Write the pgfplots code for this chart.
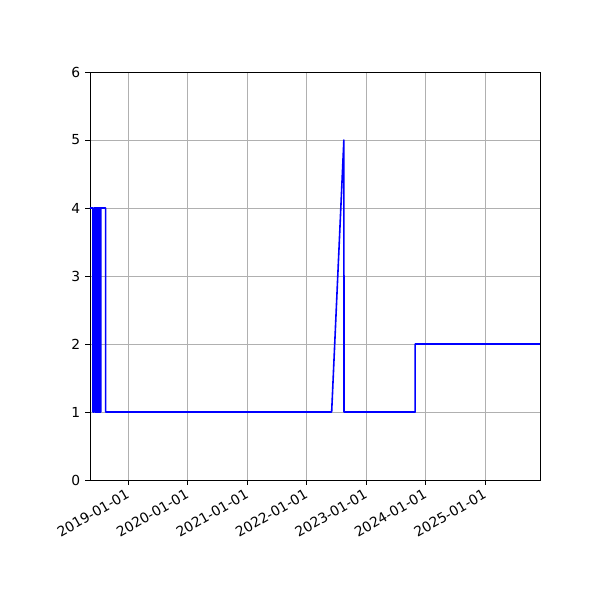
\documentclass[border=0pt]{standalone}
\usepackage{fontspec}
\setmainfont{DejaVu Sans}
\usepackage{pgfplots}
\pgfplotsset{compat=1.18}

\definecolor{gridgray}{RGB}{176,176,176}

\begin{document}
\begin{tikzpicture}
\begin{axis}[
    at={(0pt,0pt)}, anchor=south west,
    scale only axis,
    width=325.2pt, height=294.9pt,
    xmin=-235, xmax=2528,
    ymin=0, ymax=6,
    xtick={0,365,731,1096,1461,1826,2192},
    xticklabels={2019-01-01,2020-01-01,2021-01-01,2022-01-01,2023-01-01,2024-01-01,2025-01-01},
    ytick={0,1,2,3,4,5,6},
    xticklabel style={rotate=30, anchor=north east, inner sep=1pt, xshift=-2pt, font=\fontsize{10}{12}\selectfont},
    yticklabel style={font=\fontsize{10}{12}\selectfont},
    /pgf/number format/assume math mode=true,
    tick align=outside,
    tick pos=left,
    major tick length=3.5pt,
    every tick/.style={black, line width=0.58pt},
    grid=major,
    major grid style={gridgray, line width=0.58pt},
    axis line style={line width=0.58pt},
    clip=true,
]
\addplot[blue, line width=1.15pt, line join=round] coordinates {
(-235,4) (-217,4) (-217,1) (-211,1) (-211,4) (-204,4) (-204,1) (-201,1)
(-201,4) (-199,4) (-199,1) (-197,1) (-197,4) (-195,4) (-195,1) (-193,1)
(-193,4) (-191,4) (-191,1) (-189,1) (-189,4) (-187,4) (-187,1) (-185,1)
(-185,4) (-183,4) (-183,1) (-181,1) (-181,4) (-179,4) (-179,1) (-177,1)
(-177,4) (-175,4) (-175,1) (-173,1) (-173,4) (-171,4) (-171,1) (-169,1)
(-169,4) (-139,4) (-139,1) (1249,1) (1324,5) (1325,1) (1762,1) (1762,2)
(2528,2)
};
\end{axis}
\path[use as bounding box] (-65.04pt,-86.72pt) rectangle (368.56pt,346.93pt);
\end{tikzpicture}
\end{document}
